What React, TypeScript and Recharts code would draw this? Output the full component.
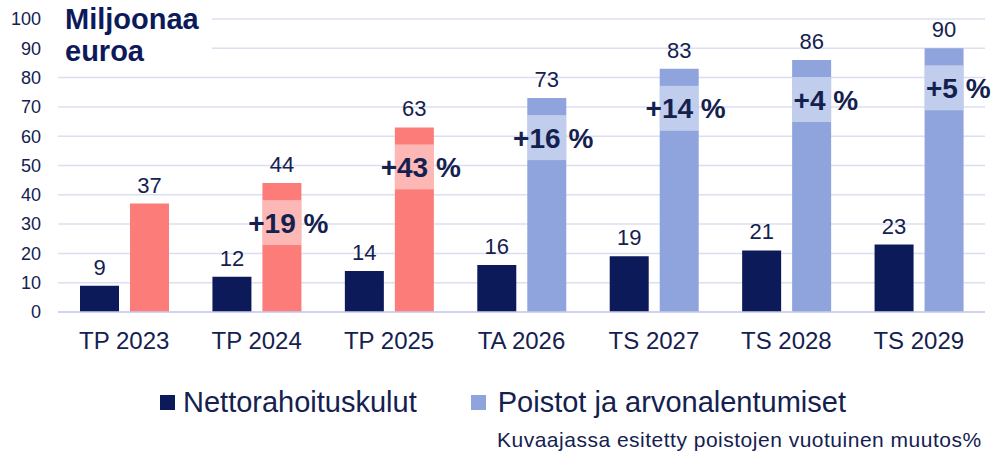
import React from 'react';
import { BarChart, Bar, XAxis, YAxis, CartesianGrid, Cell, LabelList } from 'recharts';

// vuodet (TP = tilinpäätös, TA = talousarvio, TS = taloussuunnitelma)
const CATEGORIES = ['TP 2023', 'TP 2024', 'TP 2025', 'TA 2026', 'TS 2027', 'TS 2028', 'TS 2029'];
const NETTORAHOITUSKULUT = [9, 12, 14, 16, 19, 21, 23];
const POISTOT = [37, 44, 63, 73, 83, 86, 90];
const MUUTOS = ['', '+19 %', '+43 %', '+16 %', '+14 %', '+4 %', '+5 %'];
const Y_TICKS = [0, 10, 20, 30, 40, 50, 60, 70, 80, 90, 100];
const SERIES_NAMES = ['Nettorahoituskulut', 'Poistot ja arvonalentumiset'];

const NAVY = '#0d1a5a';
const TEXT = '#14214f';
const RED = '#fb7c79';
const BLUE = '#8fa4dc';
const GRID = '#dcdff2';
const FONT = '"Liberation Sans", Arial, sans-serif';

const data = CATEGORIES.map((cat, i) => ({
  cat,
  netto: NETTORAHOITUSKULUT[i],
  poistot: POISTOT[i],
  muutos: MUUTOS[i],
}));

// muutos% -laatikko palkin yläosassa
const renderMuutos = (props: any) => {
  const { x, y, width, value } = props;
  if (!value) return null;
  const bx = Number(x);
  const by = Number(y);
  const bw = Number(width);
  return (
    <g>
      <rect x={bx} y={by + 17} width={bw} height={45} fill="#ffffff" fillOpacity={0.45} />
      <text
        x={bx + bw + 27}
        y={by + 40}
        textAnchor="end"
        dominantBaseline="central"
        fontSize={28}
        fontWeight="bold"
        fill={TEXT}
        fontFamily={FONT}
      >
        {value}
      </text>
    </g>
  );
};

export default function App() {
  return (
    <div style={{ position: 'absolute', left: 0, top: 0, width: 996, height: 457, background: '#fff', fontFamily: FONT }}>
      <BarChart
        width={996}
        height={457}
        data={data}
        margin={{ top: 19, right: 11, left: 0, bottom: 105 }}
        barCategoryGap={22}
        barGap={11}
      >
        <CartesianGrid vertical={false} stroke={GRID} strokeWidth={1.5} />
        <XAxis
          dataKey="cat"
          interval={0}
          height={40}
          axisLine={{ stroke: '#c9cdec', strokeWidth: 1.5 }}
          tickLine={false}
          tickSize={0}
          tickMargin={20}
          tick={{ fill: TEXT, fontSize: 24, fontFamily: FONT }}
        />
        <YAxis
          domain={[0, 100]}
          ticks={Y_TICKS}
          width={58}
          axisLine={false}
          tickLine={false}
          tickSize={0}
          tickMargin={17}
          tick={{ fill: TEXT, fontSize: 18, fontFamily: FONT }}
        />
        <Bar dataKey="netto" fill={NAVY} isAnimationActive={false}>
          <LabelList dataKey="netto" position="top" offset={11} fill={TEXT} fontSize={22} fontFamily={FONT} />
        </Bar>
        <Bar dataKey="poistot" fill={BLUE} isAnimationActive={false}>
          {data.map((d, i) => (
            <Cell key={`c-${i}`} fill={d.cat.startsWith('TP') ? RED : BLUE} />
          ))}
          <LabelList dataKey="poistot" position="top" offset={11} fill={TEXT} fontSize={22} fontFamily={FONT} />
          <LabelList dataKey="muutos" content={renderMuutos} />
        </Bar>
      </BarChart>

      {/* otsikko */}
      <div
        style={{
          position: 'absolute',
          left: 58,
          top: 3,
          width: 154,
          height: 68,
          background: '#fff',
          paddingLeft: 7,
          boxSizing: 'border-box',
          color: NAVY,
          fontWeight: 'bold',
          fontSize: 29,
          lineHeight: '32px',
        }}
      >
        Miljoonaa
        <br />
        euroa
      </div>

      {/* selite */}
      <div
        style={{
          position: 'absolute',
          left: 160,
          top: 385,
          display: 'flex',
          alignItems: 'center',
          color: TEXT,
          fontSize: 29,
          lineHeight: '34px',
          whiteSpace: 'nowrap',
        }}
      >
        <span style={{ width: 15, height: 15, background: NAVY, marginRight: 8 }} />
        <span style={{ marginRight: 54 }}>{SERIES_NAMES[0]}</span>
        <span style={{ width: 15, height: 15, background: BLUE, marginRight: 12 }} />
        <span>{SERIES_NAMES[1]}</span>
      </div>

      <div
        style={{
          position: 'absolute',
          left: 497,
          top: 428,
          color: TEXT,
          fontSize: 21,
          letterSpacing: 0.5,
          lineHeight: '24px',
          whiteSpace: 'nowrap',
        }}
      >
        Kuvaajassa esitetty poistojen vuotuinen muutos%
      </div>
    </div>
  );
}
